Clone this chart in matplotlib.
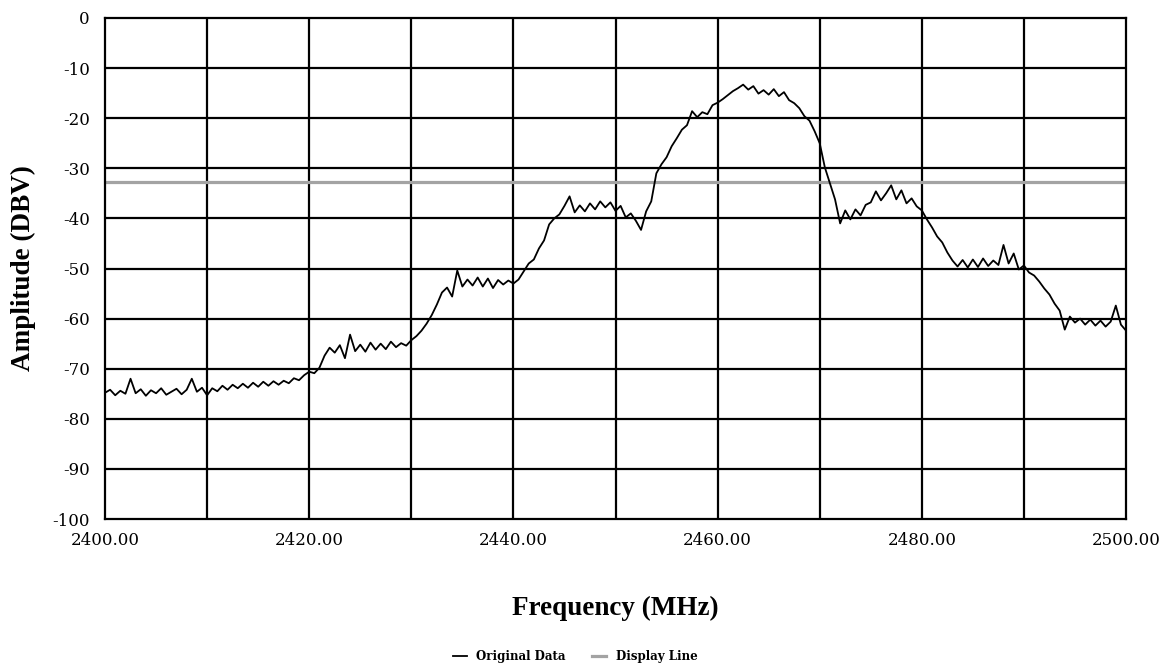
import matplotlib
matplotlib.use("Agg")
import matplotlib.pyplot as plt
import numpy as np

plt.rcParams["axes.unicode_minus"] = False

# spectrum trace, one value every 0.5 MHz
freq_start = 2400.0
freq_step = 0.5
amplitude = [
    -74.8, -74.2, -75.3, -74.4, -75.0, -72.0, -74.9, -74.1, -75.4, -74.3,
    -74.9, -73.9, -75.2, -74.6, -74.0, -75.1, -74.2, -72.0, -74.6, -73.8,
    -75.3, -73.9, -74.5, -73.4, -74.2, -73.2, -73.9, -73.0, -73.8, -72.8,
    -73.6, -72.6, -73.4, -72.5, -73.2, -72.4, -72.9, -71.9, -72.3, -71.3,
    -70.6, -70.9, -69.8, -67.4, -65.8, -66.8, -65.3, -67.9, -63.2, -66.5,
    -65.2, -66.6, -64.8, -66.2, -65.0, -66.1, -64.6, -65.7, -64.9, -65.4,
    -64.3, -63.5, -62.4, -61.0, -59.3, -57.2, -54.8, -53.8, -55.6, -50.4,
    -53.6, -52.2, -53.4, -51.8, -53.6, -52.0, -53.9, -52.3, -53.2, -52.4,
    -53.0, -52.2, -50.6, -49.0, -48.2, -46.0, -44.4, -41.2, -40.0, -39.2,
    -37.5, -35.6, -38.8, -37.4, -38.6, -37.0, -38.2, -36.6, -37.8, -36.8,
    -38.5, -37.5, -39.8, -39.0, -40.5, -42.3, -38.6, -36.6, -31.0, -29.2,
    -27.8, -25.6, -24.0, -22.3, -21.4, -18.6, -19.8, -18.8, -19.2, -17.4,
    -16.9, -16.2, -15.4, -14.6, -14.0, -13.3, -14.3, -13.6, -15.1, -14.4,
    -15.3, -14.2, -15.6, -14.8, -16.4, -17.0, -18.0, -19.6, -20.5, -22.6,
    -25.0, -29.8, -33.0, -36.2, -41.0, -38.4, -40.2, -38.2, -39.4, -37.3,
    -36.8, -34.6, -36.4, -35.0, -33.4, -36.2, -34.4, -37.0, -36.0, -37.6,
    -38.4, -40.2, -41.8, -43.6, -44.8, -46.8, -48.4, -49.6, -48.3, -49.8,
    -48.2, -49.7, -48.0, -49.5, -48.4, -49.3, -45.3, -49.0, -47.0, -50.2,
    -49.4, -50.8, -51.4, -52.6, -54.0, -55.2, -57.0, -58.4, -62.2, -59.6,
    -60.8, -60.0, -61.2, -60.2, -61.4, -60.4, -61.6, -60.6, -57.4, -61.2,
    -62.4,
]
display_level = -32.7

x_ticks = [2400, 2420, 2440, 2460, 2480, 2500]
y_ticks = [0, -10, -20, -30, -40, -50, -60, -70, -80, -90, -100]

freqs = freq_start + freq_step * np.arange(len(amplitude))

fig = plt.figure(figsize=(11.76, 6.71), dpi=100)
ax = fig.add_axes([0.0893, 0.2265, 0.8682, 0.7467])

# grid every 10 MHz / 10 dB, drawn black like the original
for f in np.arange(2410, 2500, 10):
    ax.axvline(f, color="black", lw=1.6, zorder=1)
for a in np.arange(-90, 0, 10):
    ax.axhline(a, color="black", lw=1.6, zorder=1)

ax.axhline(display_level, color="#a3a3a3", lw=2.3, zorder=2, label="Display Line")
ax.plot(freqs, amplitude, color="black", lw=1.3, zorder=3, label="Original Data")

ax.set_xlim(2400, 2500)
ax.set_ylim(-100, 0)
ax.set_xticks(x_ticks)
ax.set_xticklabels(["%.2f" % t for t in x_ticks])
ax.set_yticks(y_ticks)
ax.tick_params(which="both", length=0)
ax.tick_params(axis="x", pad=9)
ax.tick_params(axis="y", pad=11)
for lab in ax.get_xticklabels() + ax.get_yticklabels():
    lab.set_family("DejaVu Serif")
    lab.set_fontsize(12)
for s in ax.spines.values():
    s.set_linewidth(1.6)
    s.set_color("black")

ax.set_xlabel("Frequency (MHz)", family="Liberation Serif", fontweight="bold",
              fontsize=19.5, labelpad=34)
ax.set_ylabel("Amplitude (DBV)", family="Liberation Serif", fontweight="bold",
              fontsize=19.5, labelpad=12)

h, l = ax.get_legend_handles_labels()
fig.legend(h[::-1], l[::-1], loc="center", bbox_to_anchor=(0.489, 0.021), ncol=2,
           frameon=False, handlelength=1.2, columnspacing=2.2, handletextpad=0.8,
           prop={"family": "DejaVu Serif", "size": 8.5, "weight": "bold"})

fig.savefig("out.png", dpi=100)
